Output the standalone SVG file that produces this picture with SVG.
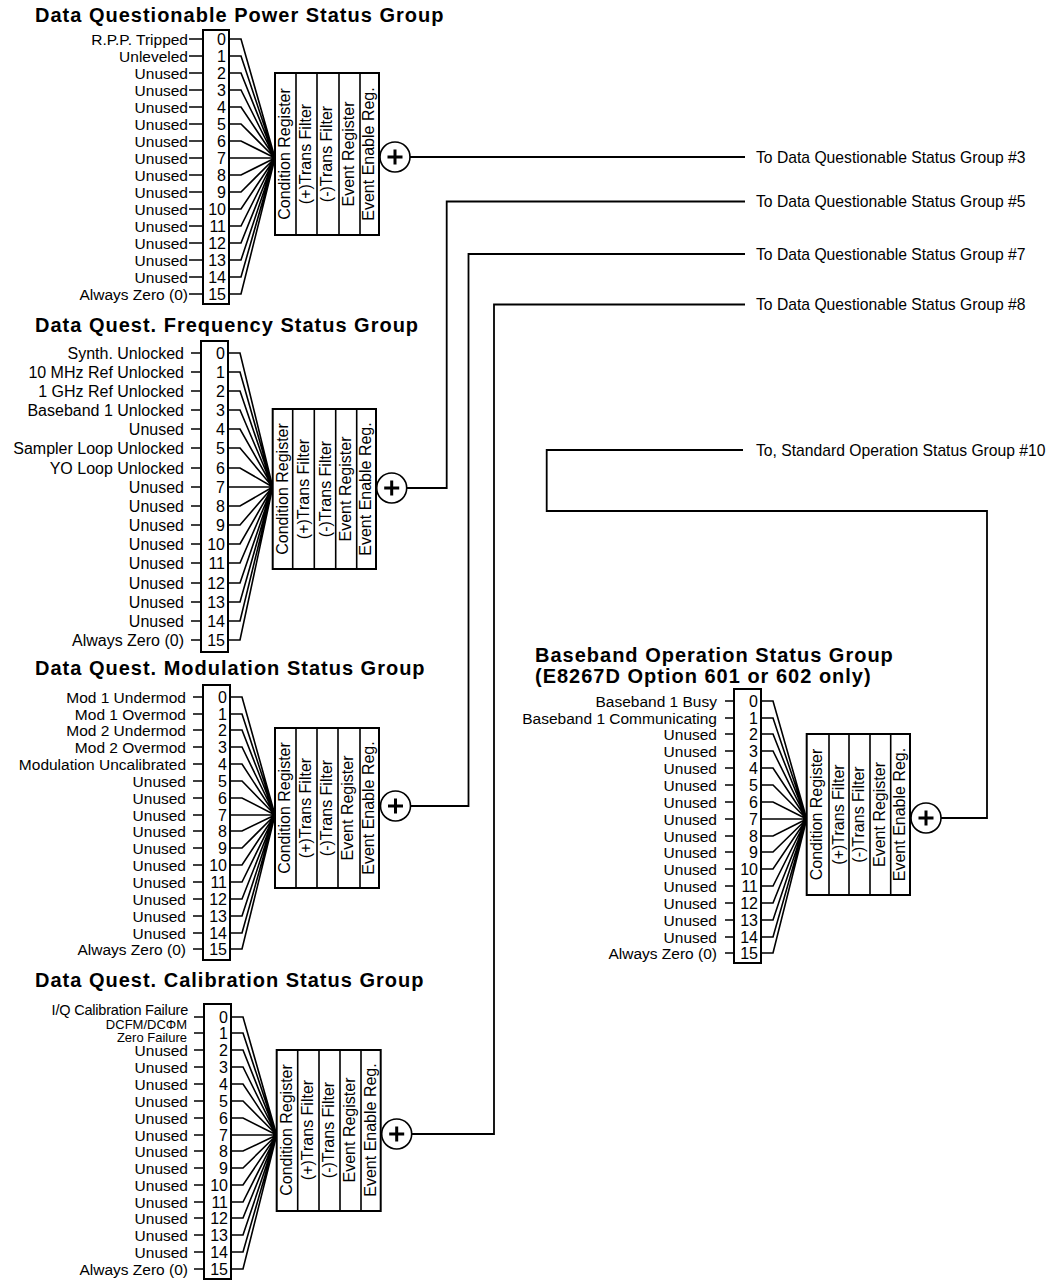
<svg xmlns="http://www.w3.org/2000/svg" width="1054" height="1281" viewBox="0 0 1054 1281">
<style>
text{font-family:"Liberation Sans",Arial,sans-serif;fill:#000}
.title{font-size:20px;font-weight:bold;letter-spacing:1px}
.lbl{font-size:15.5px;text-anchor:end}
.lbl2{font-size:16px;text-anchor:end}
.num{font-size:16px;text-anchor:end}
.reg{font-size:16px;text-anchor:middle}
.out{font-size:15.7px}
.box{fill:#fff;stroke:#000;stroke-width:2}
.ln{fill:none;stroke:#000;stroke-width:1.6}
.con{fill:none;stroke:#000;stroke-width:1.8}
.circ{fill:#fff;stroke:#000;stroke-width:1.6}
.plus{stroke:#000;stroke-width:3}
</style>
<defs>
<g id="sum"><circle class="circ" cx="0" cy="0" r="15"/><path class="plus" d="M-7.5,0H7.5M0,-7.5V7.5"/></g>
</defs>

<g id="connectors">
<path class="con" d="M410,157H745"/>
<path class="con" d="M407,488H446.7V201.5H745"/>
<path class="con" d="M411,806H468.5V254H745"/>
<path class="con" d="M412,1134H494V304.5H745"/>
<path class="con" d="M941,818H987V511H546.7V450H743"/>
<text class="out" x="756" y="162.5">To Data Questionable Status Group #3</text>
<text class="out" x="756" y="207">To Data Questionable Status Group #5</text>
<text class="out" x="756" y="259.5">To Data Questionable Status Group #7</text>
<text class="out" x="756" y="310">To Data Questionable Status Group #8</text>
<text class="out" x="756" y="455.5">To, Standard Operation Status Group #10</text>
</g>

<g id="power-group">
<text class="title" x="35" y="22">Data Questionable Power Status Group</text>
<path class="ln" d="M189,39H203M189,56H203M189,73H203M189,90H203M189,107H203M189,124H203M189,141H203M189,158H203M189,175H203M189,192H203M189,209H203M189,226H203M189,243H203M189,260H203M189,277H203M189,294H203"/>
<path class="ln" d="M229,39H241L275,158M229,56H241L275,158M229,73H241L275,158M229,90H241L275,158M229,107H241L275,158M229,124H241L275,158M229,141H241L275,158M229,158H275M229,175H241L275,158M229,192H241L275,158M229,209H241L275,158M229,226H241L275,158M229,243H241L275,158M229,260H241L275,158M229,277H241L275,158M229,294H241L275,158"/>
<rect class="box" x="203" y="30" width="26" height="274"/>
<g class="lbl">
<text x="188" y="44.5">R.P.P. Tripped</text>
<text x="188" y="61.5">Unleveled</text>
<text x="188" y="78.5">Unused</text>
<text x="188" y="95.5">Unused</text>
<text x="188" y="112.5">Unused</text>
<text x="188" y="129.5">Unused</text>
<text x="188" y="146.5">Unused</text>
<text x="188" y="163.5">Unused</text>
<text x="188" y="180.5">Unused</text>
<text x="188" y="197.5">Unused</text>
<text x="188" y="214.5">Unused</text>
<text x="188" y="231.5">Unused</text>
<text x="188" y="248.5">Unused</text>
<text x="188" y="265.5">Unused</text>
<text x="188" y="282.5">Unused</text>
<text x="188" y="299.5">Always Zero (0)</text>
</g>
<g class="num">
<text x="226" y="44.5">0</text><text x="226" y="61.5">1</text><text x="226" y="78.5">2</text><text x="226" y="95.5">3</text>
<text x="226" y="112.5">4</text><text x="226" y="129.5">5</text><text x="226" y="146.5">6</text><text x="226" y="163.5">7</text>
<text x="226" y="180.5">8</text><text x="226" y="197.5">9</text><text x="226" y="214.5">10</text><text x="226" y="231.5">11</text>
<text x="226" y="248.5">12</text><text x="226" y="265.5">13</text><text x="226" y="282.5">14</text><text x="226" y="299.5">15</text>
</g>
<rect class="box" x="275" y="73" width="104" height="162"/>
<path class="ln" d="M296,73V235M317,73V235M339,73V235M360,73V235"/>
<g class="reg">
<text transform="translate(290,154) rotate(-90)">Condition Register</text>
<text transform="translate(311,154) rotate(-90)">(+)Trans Filter</text>
<text transform="translate(332,154) rotate(-90)">(-)Trans Filter</text>
<text transform="translate(354,154) rotate(-90)">Event Register</text>
<text transform="translate(374,154) rotate(-90)">Event Enable Reg.</text>
</g>
<use href="#sum" x="395" y="157"/>
</g>

<g id="frequency-group">
<text class="title" x="35" y="332">Data Quest. Frequency Status Group</text>
<path class="ln" d="M191,353H201M191,372H201M191,391H201M191,410H201M191,429H201M191,448H201M191,468H201M191,487H201M191,506H201M191,525H201M191,544H201M191,563H201M191,583H201M191,602H201M191,621H201M191,640H201"/>
<path class="ln" d="M228,353H240L272.7,487M228,372H240L272.7,487M228,391H240L272.7,487M228,410H240L272.7,487M228,429H240L272.7,487M228,448H240L272.7,487M228,468H240L272.7,487M228,487H272.7M228,506H240L272.7,487M228,525H240L272.7,487M228,544H240L272.7,487M228,563H240L272.7,487M228,583H240L272.7,487M228,602H240L272.7,487M228,621H240L272.7,487M228,640H240L272.7,487"/>
<rect class="box" x="201" y="341" width="27" height="311"/>
<g class="lbl2">
<text x="184" y="358.8">Synth. Unlocked</text>
<text x="184" y="377.8">10 MHz Ref Unlocked</text>
<text x="184" y="396.8">1 GHz Ref Unlocked</text>
<text x="184" y="415.8">Baseband 1 Unlocked</text>
<text x="184" y="434.8">Unused</text>
<text x="184" y="453.8">Sampler Loop Unlocked</text>
<text x="184" y="473.8">YO Loop Unlocked</text>
<text x="184" y="492.8">Unused</text>
<text x="184" y="511.8">Unused</text>
<text x="184" y="530.8">Unused</text>
<text x="184" y="549.8">Unused</text>
<text x="184" y="568.8">Unused</text>
<text x="184" y="588.8">Unused</text>
<text x="184" y="607.8">Unused</text>
<text x="184" y="626.8">Unused</text>
<text x="184" y="645.8">Always Zero (0)</text>
</g>
<g class="num">
<text x="225" y="358.8">0</text><text x="225" y="377.8">1</text><text x="225" y="396.8">2</text><text x="225" y="415.8">3</text>
<text x="225" y="434.8">4</text><text x="225" y="453.8">5</text><text x="225" y="473.8">6</text><text x="225" y="492.8">7</text>
<text x="225" y="511.8">8</text><text x="225" y="530.8">9</text><text x="225" y="549.8">10</text><text x="225" y="568.8">11</text>
<text x="225" y="588.8">12</text><text x="225" y="607.8">13</text><text x="225" y="626.8">14</text><text x="225" y="645.8">15</text>
</g>
<rect class="box" x="272.7" y="409" width="103.3" height="160"/>
<path class="ln" d="M292.7,409V569M314.3,409V569M335.7,409V569M356.7,409V569"/>
<g class="reg">
<text transform="translate(287.7,489) rotate(-90)">Condition Register</text>
<text transform="translate(309,489) rotate(-90)">(+)Trans Filter</text>
<text transform="translate(330.5,489) rotate(-90)">(-)Trans Filter</text>
<text transform="translate(351,489) rotate(-90)">Event Register</text>
<text transform="translate(371,489) rotate(-90)">Event Enable Reg.</text>
</g>
<use href="#sum" x="391.7" y="488"/>
</g>

<g id="modulation-group">
<text class="title" x="35" y="675">Data Quest. Modulation Status Group</text>
<path class="ln" d="M193,697H203M193,714H203M193,730H203M193,747H203M193,764H203M193,781H203M193,798H203M193,815H203M193,831H203M193,848H203M193,865H203M193,882H203M193,899H203M193,916H203M193,933H203M193,949H203"/>
<path class="ln" d="M230,697H242L275,815M230,714H242L275,815M230,730H242L275,815M230,747H242L275,815M230,764H242L275,815M230,781H242L275,815M230,798H242L275,815M230,815H275M230,831H242L275,815M230,848H242L275,815M230,865H242L275,815M230,882H242L275,815M230,899H242L275,815M230,916H242L275,815M230,933H242L275,815M230,949H242L275,815"/>
<rect class="box" x="203" y="685" width="27" height="275"/>
<g class="lbl">
<text x="186" y="702.5">Mod 1 Undermod</text>
<text x="186" y="719.5">Mod 1 Overmod</text>
<text x="186" y="735.5">Mod 2 Undermod</text>
<text x="186" y="752.5">Mod 2 Overmod</text>
<text x="186" y="769.5">Modulation Uncalibrated</text>
<text x="186" y="786.5">Unused</text>
<text x="186" y="803.5">Unused</text>
<text x="186" y="820.5">Unused</text>
<text x="186" y="836.5">Unused</text>
<text x="186" y="853.5">Unused</text>
<text x="186" y="870.5">Unused</text>
<text x="186" y="887.5">Unused</text>
<text x="186" y="904.5">Unused</text>
<text x="186" y="921.5">Unused</text>
<text x="186" y="938.5">Unused</text>
<text x="186" y="954.5">Always Zero (0)</text>
</g>
<g class="num">
<text x="227" y="702.5">0</text><text x="227" y="719.5">1</text><text x="227" y="735.5">2</text><text x="227" y="752.5">3</text>
<text x="227" y="769.5">4</text><text x="227" y="786.5">5</text><text x="227" y="803.5">6</text><text x="227" y="820.5">7</text>
<text x="227" y="836.5">8</text><text x="227" y="853.5">9</text><text x="227" y="870.5">10</text><text x="227" y="887.5">11</text>
<text x="227" y="904.5">12</text><text x="227" y="921.5">13</text><text x="227" y="938.5">14</text><text x="227" y="954.5">15</text>
</g>
<rect class="box" x="275" y="728" width="104" height="160"/>
<path class="ln" d="M296,728V888M317,728V888M338,728V888M360,728V888"/>
<g class="reg">
<text transform="translate(290,808) rotate(-90)">Condition Register</text>
<text transform="translate(311,808) rotate(-90)">(+)Trans Filter</text>
<text transform="translate(332,808) rotate(-90)">(-)Trans Filter</text>
<text transform="translate(353,808) rotate(-90)">Event Register</text>
<text transform="translate(374,808) rotate(-90)">Event Enable Reg.</text>
</g>
<use href="#sum" x="395.5" y="806"/>
</g>

<g id="calibration-group">
<text class="title" x="35" y="987">Data Quest. Calibration Status Group</text>
<path class="ln" d="M194,1017H204M194,1033H204M194,1050H204M194,1067H204M194,1084H204M194,1101H204M194,1118H204M194,1135H204M194,1151H204M194,1168H204M194,1185H204M194,1202H204M194,1218H204M194,1235H204M194,1252H204M194,1269H204"/>
<path class="ln" d="M231,1017H243L276.7,1135M231,1033H243L276.7,1135M231,1050H243L276.7,1135M231,1067H243L276.7,1135M231,1084H243L276.7,1135M231,1101H243L276.7,1135M231,1118H243L276.7,1135M231,1135H276.7M231,1151H243L276.7,1135M231,1168H243L276.7,1135M231,1185H243L276.7,1135M231,1202H243L276.7,1135M231,1218H243L276.7,1135M231,1235H243L276.7,1135M231,1252H243L276.7,1135M231,1269H243L276.7,1135"/>
<rect class="box" x="204" y="1004" width="27" height="275"/>
<g class="lbl">
<text x="188" y="1015" style="font-size:14.5px;letter-spacing:-0.2px">I/Q Calibration Failure</text>
<text x="187" y="1028.5" style="font-size:13px">DCFM/DCΦM</text>
<text x="187" y="1041.5" style="font-size:13px">Zero Failure</text>
<text x="188" y="1056">Unused</text>
<text x="188" y="1072.5">Unused</text>
<text x="188" y="1089.5">Unused</text>
<text x="188" y="1106.5">Unused</text>
<text x="188" y="1123.5">Unused</text>
<text x="188" y="1140.5">Unused</text>
<text x="188" y="1156.5">Unused</text>
<text x="188" y="1173.5">Unused</text>
<text x="188" y="1190.5">Unused</text>
<text x="188" y="1207.5">Unused</text>
<text x="188" y="1223.5">Unused</text>
<text x="188" y="1240.5">Unused</text>
<text x="188" y="1257.5">Unused</text>
<text x="188" y="1274.5">Always Zero (0)</text>
</g>
<g class="num">
<text x="228" y="1022.5">0</text><text x="228" y="1038.5">1</text><text x="228" y="1055.5">2</text><text x="228" y="1072.5">3</text>
<text x="228" y="1089.5">4</text><text x="228" y="1106.5">5</text><text x="228" y="1123.5">6</text><text x="228" y="1140.5">7</text>
<text x="228" y="1156.5">8</text><text x="228" y="1173.5">9</text><text x="228" y="1190.5">10</text><text x="228" y="1207.5">11</text>
<text x="228" y="1223.5">12</text><text x="228" y="1240.5">13</text><text x="228" y="1257.5">14</text><text x="228" y="1274.5">15</text>
</g>
<rect class="box" x="276.7" y="1050" width="104" height="161"/>
<path class="ln" d="M297.7,1050V1211M319,1050V1211M340,1050V1211M361,1050V1211"/>
<g class="reg">
<text transform="translate(291.7,1130) rotate(-90)">Condition Register</text>
<text transform="translate(313,1130) rotate(-90)">(+)Trans Filter</text>
<text transform="translate(334,1130) rotate(-90)">(-)Trans Filter</text>
<text transform="translate(355,1130) rotate(-90)">Event Register</text>
<text transform="translate(375.5,1130) rotate(-90)">Event Enable Reg.</text>
</g>
<use href="#sum" x="396.7" y="1134"/>
</g>

<g id="baseband-group">
<text class="title" x="535" y="662">Baseband Operation Status Group</text>
<text class="title" x="535" y="683">(E8267D Option 601 or 602 only)</text>
<path class="ln" d="M725,701H734M725,718H734M725,734H734M725,751H734M725,768H734M725,785H734M725,802H734M725,819H734M725,836H734M725,852H734M725,869H734M725,886H734M725,903H734M725,920H734M725,937H734M725,953H734"/>
<path class="ln" d="M761,701H773L806.7,819M761,718H773L806.7,819M761,734H773L806.7,819M761,751H773L806.7,819M761,768H773L806.7,819M761,785H773L806.7,819M761,802H773L806.7,819M761,819H806.7M761,836H773L806.7,819M761,852H773L806.7,819M761,869H773L806.7,819M761,886H773L806.7,819M761,903H773L806.7,819M761,920H773L806.7,819M761,937H773L806.7,819M761,953H773L806.7,819"/>
<rect class="box" x="734" y="689" width="27" height="274"/>
<g class="lbl">
<text x="717" y="706.5">Baseband 1 Busy</text>
<text x="717" y="723.5">Baseband 1 Communicating</text>
<text x="717" y="739.5">Unused</text>
<text x="717" y="756.5">Unused</text>
<text x="717" y="773.5">Unused</text>
<text x="717" y="790.5">Unused</text>
<text x="717" y="807.5">Unused</text>
<text x="717" y="824.5">Unused</text>
<text x="717" y="841.5">Unused</text>
<text x="717" y="857.5">Unused</text>
<text x="717" y="874.5">Unused</text>
<text x="717" y="891.5">Unused</text>
<text x="717" y="908.5">Unused</text>
<text x="717" y="925.5">Unused</text>
<text x="717" y="942.5">Unused</text>
<text x="717" y="958.5">Always Zero (0)</text>
</g>
<g class="num">
<text x="758" y="706.5">0</text><text x="758" y="723.5">1</text><text x="758" y="739.5">2</text><text x="758" y="756.5">3</text>
<text x="758" y="773.5">4</text><text x="758" y="790.5">5</text><text x="758" y="807.5">6</text><text x="758" y="824.5">7</text>
<text x="758" y="841.5">8</text><text x="758" y="857.5">9</text><text x="758" y="874.5">10</text><text x="758" y="891.5">11</text>
<text x="758" y="908.5">12</text><text x="758" y="925.5">13</text><text x="758" y="942.5">14</text><text x="758" y="958.5">15</text>
</g>
<rect class="box" x="806.7" y="734" width="103.3" height="161"/>
<path class="ln" d="M829,734V895M849,734V895M870,734V895M890.7,734V895"/>
<g class="reg">
<text transform="translate(821.7,814.5) rotate(-90)">Condition Register</text>
<text transform="translate(844,814.5) rotate(-90)">(+)Trans Filter</text>
<text transform="translate(864,814.5) rotate(-90)">(-)Trans Filter</text>
<text transform="translate(885,814.5) rotate(-90)">Event Register</text>
<text transform="translate(904.7,814.5) rotate(-90)">Event Enable Reg.</text>
</g>
<use href="#sum" x="926" y="818"/>
</g>
</svg>
